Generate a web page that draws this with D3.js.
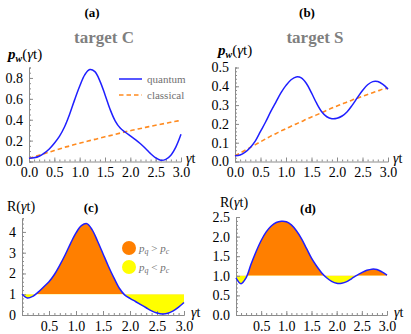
<!DOCTYPE html>
<html><head><meta charset="utf-8">
<script src="https://cdn.jsdelivr.net/npm/d3@7"></script>
<style>
body{margin:0;background:#fff}
svg{display:block}
text{font-family:"Liberation Serif","Times New Roman",serif}
</style>
</head><body>
<svg id="chart" width="411" height="334"></svg>
<script>
// ---------- data ----------
const tValues = [0,0.1,0.2,0.3,0.4,0.5,0.6,0.7,0.8,0.9,1.0,1.1,1.2,1.3,1.4,1.5,1.6,1.7,1.8,1.9,2.0,2.1,2.2,2.3,2.4,2.5,2.6,2.7,2.8,2.9,3.0];
const quantumC   = [0.03,0.035,0.05,0.08,0.12,0.175,0.24,0.33,0.45,0.59,0.72,0.83,0.88,0.86,0.77,0.64,0.50,0.39,0.32,0.28,0.245,0.21,0.17,0.125,0.075,0.035,0.012,0.02,0.06,0.14,0.26];
const classicalC = [0.03,0.045,0.06,0.075,0.09,0.105,0.12,0.135,0.148,0.162,0.175,0.188,0.2,0.212,0.225,0.237,0.248,0.26,0.272,0.284,0.295,0.306,0.316,0.327,0.337,0.347,0.357,0.366,0.375,0.385,0.395];
const quantumS   = [0.03,0.035,0.05,0.075,0.11,0.16,0.21,0.265,0.315,0.365,0.405,0.435,0.45,0.445,0.415,0.365,0.31,0.265,0.238,0.228,0.23,0.242,0.265,0.3,0.34,0.378,0.408,0.425,0.425,0.41,0.385];
const classicalS = [0.03,0.045,0.06,0.075,0.09,0.105,0.12,0.135,0.148,0.162,0.175,0.188,0.2,0.212,0.225,0.237,0.248,0.26,0.272,0.284,0.295,0.306,0.316,0.327,0.337,0.347,0.357,0.366,0.375,0.385,0.39];
const ratioC = [1.0,0.82,0.9,1.1,1.35,1.6,1.95,2.4,2.9,3.45,3.95,4.3,4.4,4.1,3.55,2.95,2.35,1.8,1.3,0.97,0.8,0.65,0.5,0.35,0.2,0.1,0.05,0.08,0.2,0.38,0.6];
const ratioS = [0.95,0.8,0.95,1.3,1.62,1.9,2.12,2.27,2.36,2.39,2.38,2.3,2.15,1.95,1.7,1.45,1.25,1.08,0.95,0.86,0.81,0.81,0.85,0.93,1.01,1.08,1.14,1.17,1.16,1.1,1.02];

const xTickLabelsTop = [0,0.5,1.0,1.5,2.0,2.5,3.0];
const xTickLabelsBottom = [0.5,1.0,1.5,2.0,2.5,3.0];
const yTicksA = [0,0.2,0.4,0.6,0.8];
const yTicksB = [0,0.1,0.2,0.3,0.4,0.5];
const yTicksC = [0,1,2,3,4];
const yTicksD = [0,0.5,1.0,1.5,2.0,2.5];

const panelLetters = ["(a)","(b)","(c)","(d)"];
const panelTitles = ["target C","target S"];
const legendLabels = ["quantum","classical"];

// ---------- styles ----------
const BLUE = "#1f1fff", ORANGE = "#ff8a1f", FILL_OR = "#ff7f00", FILL_YE = "#ffff00", AXIS = "#8c8c8c";
const svg = d3.select("#chart");

function drawAxes(g, x, y, xTicks, yTicks, xFmt, yFmt, xMinor, yMinor){
  const xa = g.append("g").attr("transform",`translate(0,${y.range()[0]})`);
  xa.call(d3.axisBottom(x).tickValues(xMinor).tickSize(-2).tickFormat(""));
  xa.append("g").call(d3.axisBottom(x).tickValues(xTicks).tickSize(-4).tickPadding(6).tickFormat(xFmt))
    .select(".domain").remove();
  const ya = g.append("g").attr("transform",`translate(${x.range()[0]},0)`);
  ya.call(d3.axisLeft(y).tickValues(yMinor).tickSize(-2).tickFormat(""));
  ya.append("g").call(d3.axisLeft(y).tickValues(yTicks).tickSize(-4).tickPadding(6).tickFormat(yFmt))
    .select(".domain").remove();
  g.selectAll(".domain").attr("stroke",AXIS);
  g.selectAll(".tick line").attr("stroke",AXIS);
  g.selectAll(".tick text").attr("fill","#000").style("font-size","14px").style("font-family","Liberation Serif, serif");
}

function gammaT(g, xpos, ypos){
  const t = g.append("text").attr("x",xpos).attr("y",ypos).style("font-size","14px");
  t.append("tspan").style("font-style","italic").text("γ");
  t.append("tspan").text("t");
}

function pwLabel(g, xpos, ypos){
  const t = g.append("text").attr("x",xpos).attr("y",ypos).style("font-size","15px");
  t.append("tspan").style("font-style","italic").style("font-weight","bold").text("p");
  t.append("tspan").style("font-style","italic").style("font-weight","bold").style("font-size","10px").attr("dy",3).text("w");
  t.append("tspan").attr("dy",-3).text("(");
  t.append("tspan").style("font-style","italic").text("γ");
  t.append("tspan").text("t)");
}
function rLabel(g, xpos, ypos){
  const t = g.append("text").attr("x",xpos).attr("y",ypos).style("font-size","14px");
  t.append("tspan").text("R(");
  t.append("tspan").style("font-style","italic").text("γ");
  t.append("tspan").text("t)");
}

const fmt1 = d3.format(".1f"), fmt0 = d3.format("d");

// ---------- top panels ----------
function topPanel(i, xr, yMax, yTicks, yMinor, qv, cv){
  const g = svg.append("g");
  const x = d3.scaleLinear().domain([0,3]).range(xr);
  const y = d3.scaleLinear().domain([0,yMax]).range([161.5,67.5]);
  drawAxes(g, x, y, xTickLabelsTop, yTicks, fmt1, fmt1, x.ticks(30), yMinor);
  const line = d3.line().x((d,j)=>x(tValues[j])).y(d=>y(d)).curve(d3.curveCatmullRom);
  g.append("path").datum(cv).attr("d",line).attr("fill","none").attr("stroke",ORANGE)
    .attr("stroke-width",1.6).attr("stroke-dasharray","4.5,3");
  g.append("path").datum(qv).attr("d",line).attr("fill","none").attr("stroke",BLUE).attr("stroke-width",1.5);
  return {g,x,y};
}
const A = topPanel(0,[29,181],0.9,yTicksA,d3.range(0,0.9001,0.05),quantumC,classicalC);
const B = topPanel(1,[235,388],0.5,yTicksB,d3.range(0,0.5001,0.02),quantumS,classicalS);

// titles
svg.append("text").attr("x",92).attr("y",17).attr("text-anchor","middle").style("font-weight","bold").style("font-size","13px").text(panelLetters[0]);
svg.append("text").attr("x",307).attr("y",17).attr("text-anchor","middle").style("font-weight","bold").style("font-size","13px").text(panelLetters[1]);
svg.append("text").attr("x",104).attr("y",43).attr("text-anchor","middle").style("font-weight","bold").style("font-size","17px").attr("fill","#7f7f7f").text(panelTitles[0]);
svg.append("text").attr("x",315).attr("y",43).attr("text-anchor","middle").style("font-weight","bold").style("font-size","17px").attr("fill","#7f7f7f").text(panelTitles[1]);
pwLabel(svg, 8, 59);
pwLabel(svg, 218, 55);
gammaT(svg, 186, 163);
gammaT(svg, 393, 163);

// legend (a)
svg.append("line").attr("x1",119).attr("x2",142).attr("y1",79).attr("y2",79).attr("stroke",BLUE).attr("stroke-width",1.5);
svg.append("line").attr("x1",119).attr("x2",142).attr("y1",95).attr("y2",95).attr("stroke",ORANGE).attr("stroke-width",1.6).attr("stroke-dasharray","4.5,3");
svg.append("text").attr("x",147).attr("y",82.5).style("font-size","11px").attr("fill","#707070").text(legendLabels[0]);
svg.append("text").attr("x",147).attr("y",98.5).style("font-size","11px").attr("fill","#707070").text(legendLabels[1]);

// ---------- bottom panels ----------
function bottomPanel(i, xr, yMax, yTop, yTicks, yMinor, yFmt, rv){
  const g = svg.append("g");
  const x = d3.scaleLinear().domain([0,3]).range(xr);
  const y = d3.scaleLinear().domain([0,yMax]).range([315,yTop]);
  const id = "p"+i;
  const defs = g.append("defs");
  defs.append("clipPath").attr("id",id+"up").append("rect").attr("x",0).attr("y",0).attr("width",411).attr("height",y(1));
  defs.append("clipPath").attr("id",id+"dn").append("rect").attr("x",0).attr("y",y(1)).attr("width",411).attr("height",334-y(1));
  const area = d3.area().x((d,j)=>x(tValues[j])).y0(y(1)).y1(d=>y(d)).curve(d3.curveCatmullRom);
  g.append("path").datum(rv).attr("d",area).attr("fill",FILL_OR).attr("clip-path",`url(#${id}up)`);
  g.append("path").datum(rv).attr("d",area).attr("fill",FILL_YE).attr("clip-path",`url(#${id}dn)`);
  drawAxes(g, x, y, xTickLabelsBottom, yTicks, fmt1, yFmt, x.ticks(30), yMinor);
  const line = d3.line().x((d,j)=>x(tValues[j])).y(d=>y(d)).curve(d3.curveCatmullRom);
  g.append("path").datum(rv).attr("d",line).attr("fill","none").attr("stroke",BLUE).attr("stroke-width",1.5);
  return {g,x,y};
}
const C = bottomPanel(2,[22,184],4.67,218,yTicksC,d3.range(0,4.67,0.2),fmt0,ratioC);
const D = bottomPanel(3,[236,387],2.5,217,yTicksD,d3.range(0,2.5001,0.1),fmt1,ratioS);

rLabel(svg, 7, 211);
rLabel(svg, 220, 207);
svg.append("text").attr("x",91).attr("y",212).attr("text-anchor","middle").style("font-weight","bold").style("font-size","13px").text(panelLetters[2]);
svg.append("text").attr("x",308).attr("y",213).attr("text-anchor","middle").style("font-weight","bold").style("font-size","13px").text(panelLetters[3]);
gammaT(svg, 191, 317);
gammaT(svg, 394, 317);

// legend (c)
const legC = [{c:FILL_OR, op:">", y:248},{c:FILL_YE, op:"<", y:267}];
legC.forEach(d=>{
  svg.append("circle").attr("cx",129).attr("cy",d.y).attr("r",7).attr("fill",d.c);
  const t = svg.append("text").attr("x",139).attr("y",d.y+3.5).style("font-size","11px").attr("fill","#707070");
  t.append("tspan").style("font-style","italic").text("p");
  t.append("tspan").style("font-style","italic").style("font-size","8px").attr("dy",2.5).text("q");
  t.append("tspan").attr("dy",-2.5).text(" "+d.op+" ");
  t.append("tspan").style("font-style","italic").text("p");
  t.append("tspan").style("font-style","italic").style("font-size","8px").attr("dy",2.5).text("c");
});
</script>
</body></html>
